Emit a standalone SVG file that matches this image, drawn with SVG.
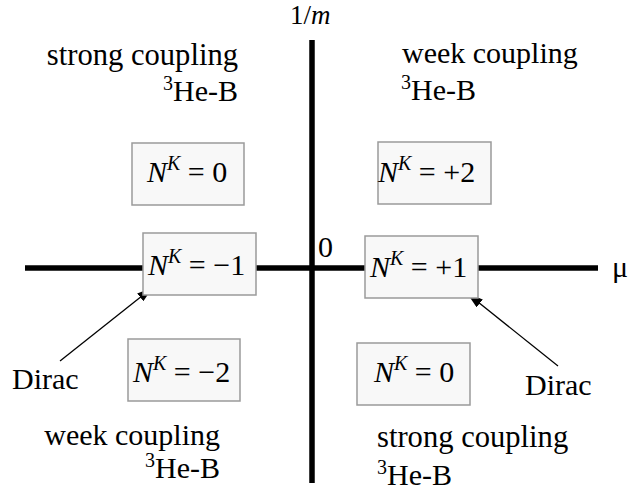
<svg xmlns="http://www.w3.org/2000/svg" width="631" height="495" viewBox="0 0 631 495">
<style>
text{font-family:"Liberation Serif","Tinos","Times New Roman","DejaVu Serif",serif;font-size:30px;fill:#000}
.i{font-style:italic}
.sup{font-size:20px}
.box{fill:#f8f8f8;stroke:#9a9a9a;stroke-width:1.5}
.axis{stroke:#000;stroke-width:5.5;fill:none}
.arr{stroke:#000;stroke-width:1.3;fill:none;marker-end:url(#ah)}
</style>
<defs>
<marker id="ah" viewBox="0 0 16 10" refX="15" refY="5" markerWidth="16" markerHeight="10" markerUnits="userSpaceOnUse" orient="auto">
<path d="M0,0 L16,5 L0,10 Z" fill="#000"/>
</marker>
</defs>
<g id="connectors">
<line class="axis" x1="312" y1="40" x2="312" y2="483"/>
<line class="axis" x1="25" y1="268" x2="598" y2="268"/>
<line class="arr" x1="60" y1="361" x2="152" y2="288"/>
<line class="arr" x1="558" y1="366" x2="468" y2="294"/>
</g>
<g id="axis-labels">
<text x="290" y="24" style="font-size:27px">1/<tspan class="i">m</tspan></text>
<text x="318" y="257">0</text>
<text x="612" y="277">μ</text>
</g>
<g id="region-tl">
<text x="238" y="65" text-anchor="end" style="font-size:30.6px">strong coupling</text>
<text x="238" y="101" text-anchor="end"><tspan class="sup" dy="-11">3</tspan><tspan dy="11">He-B</tspan></text>
</g>
<g id="region-tr">
<text x="402" y="63">week coupling</text>
<text x="401" y="100"><tspan class="sup" dy="-11">3</tspan><tspan dy="11">He-B</tspan></text>
</g>
<g id="region-bl">
<text x="220" y="445" text-anchor="end">week coupling</text>
<text x="220" y="478" text-anchor="end"><tspan class="sup" dy="-11">3</tspan><tspan dy="11">He-B</tspan></text>
</g>
<g id="region-br">
<text x="377" y="447" style="font-size:30.6px">strong coupling</text>
<text x="377" y="485"><tspan class="sup" dy="-11">3</tspan><tspan dy="11">He-B</tspan></text>
</g>
<g id="nk-tl">
<rect class="box" x="132" y="143" width="112" height="62"/>
<text x="147" y="182"><tspan class="i">N</tspan><tspan class="i sup" dy="-12">K</tspan><tspan dy="12"> = 0</tspan></text>
</g>
<g id="nk-l">
<rect class="box" x="143" y="233" width="113" height="62"/>
<text x="148" y="275"><tspan class="i">N</tspan><tspan class="i sup" dy="-12">K</tspan><tspan dy="12"> = −1</tspan></text>
</g>
<g id="nk-tr">
<rect class="box" x="378" y="142" width="113" height="62"/>
<text x="378" y="182"><tspan class="i">N</tspan><tspan class="i sup" dy="-12">K</tspan><tspan dy="12"> = +2</tspan></text>
</g>
<g id="nk-r">
<rect class="box" x="365" y="236" width="113" height="62"/>
<text x="370" y="277"><tspan class="i">N</tspan><tspan class="i sup" dy="-12">K</tspan><tspan dy="12"> = +1</tspan></text>
</g>
<g id="nk-bl">
<rect class="box" x="128" y="339" width="112" height="62"/>
<text x="133" y="382"><tspan class="i">N</tspan><tspan class="i sup" dy="-12">K</tspan><tspan dy="12"> = −2</tspan></text>
</g>
<g id="nk-br">
<rect class="box" x="357" y="343" width="113" height="62"/>
<text x="374" y="382"><tspan class="i">N</tspan><tspan class="i sup" dy="-12">K</tspan><tspan dy="12"> = 0</tspan></text>
</g>
<g id="dirac-l"><text x="12" y="389">Dirac</text></g>
<g id="dirac-r"><text x="525" y="395">Dirac</text></g>
</svg>
